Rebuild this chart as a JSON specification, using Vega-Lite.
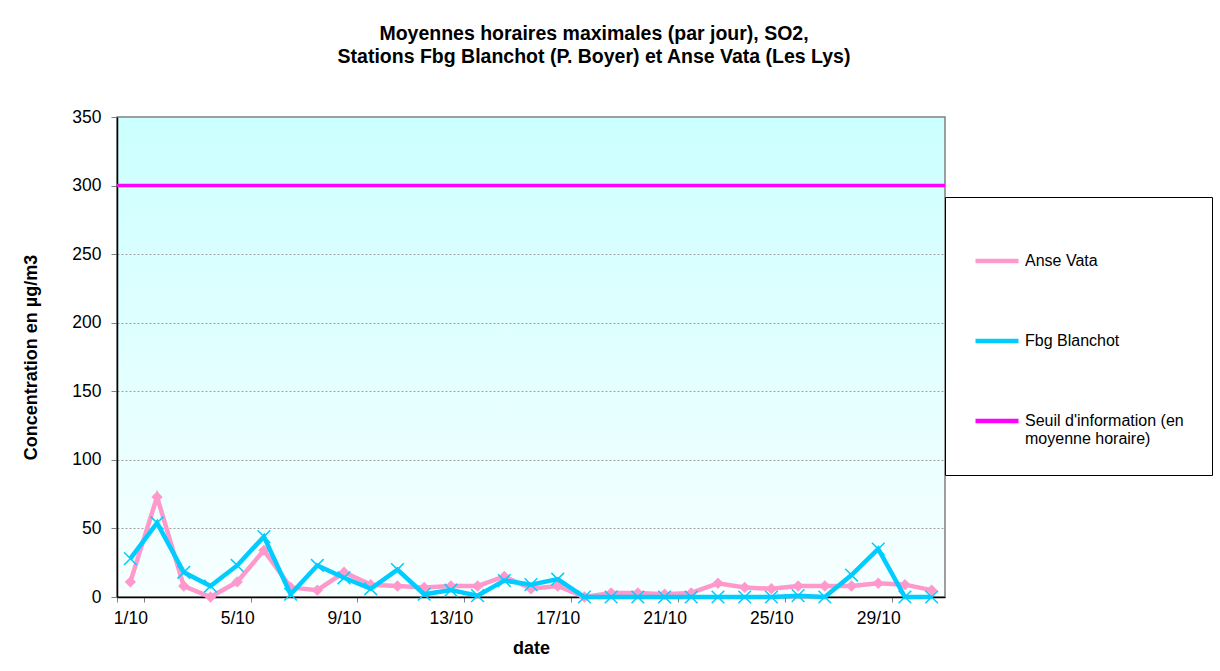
{
  "$schema": "https://vega.github.io/schema/vega-lite/v6.json",
  "width": 828,
  "height": 480,
  "autosize": "none",
  "padding": {"left": 117, "top": 117, "right": 275, "bottom": 74},
  "background": "white",
  "config": {
    "font": "Liberation Sans",
    "axis": {"labelColor": "black", "titleColor": "black"}
  },
  "view": {
    "fill": {"gradient": "linear", "x1": 0, "y1": 0, "x2": 0, "y2": 1, "stops": [{"offset": 0, "color": "#ccffff"}, {"offset": 1, "color": "#f8ffff"}]},
    "stroke": "#808080",
    "strokeWidth": 1.5
  },
  "title": {
    "text": ["Moyennes horaires maximales (par jour), SO2,", "Stations Fbg Blanchot (P. Boyer) et Anse Vata (Les Lys)"],
    "fontSize": 19.5,
    "fontWeight": "bold",
    "lineHeight": 23,
    "anchor": "middle",
    "dx": 63,
    "offset": 41,
    "color": "black"
  },
  "datasets": {
    "so2": [
      {"d": "1/10", "Anse Vata": 11, "Fbg Blanchot": 28},
      {"d": "2/10", "Anse Vata": 73, "Fbg Blanchot": 54},
      {"d": "3/10", "Anse Vata": 8, "Fbg Blanchot": 18},
      {"d": "4/10", "Anse Vata": 0, "Fbg Blanchot": 8},
      {"d": "5/10", "Anse Vata": 11, "Fbg Blanchot": 23},
      {"d": "6/10", "Anse Vata": 34, "Fbg Blanchot": 44},
      {"d": "7/10", "Anse Vata": 7, "Fbg Blanchot": 2},
      {"d": "8/10", "Anse Vata": 5, "Fbg Blanchot": 23},
      {"d": "9/10", "Anse Vata": 18, "Fbg Blanchot": 14},
      {"d": "10/10", "Anse Vata": 9, "Fbg Blanchot": 6},
      {"d": "11/10", "Anse Vata": 8, "Fbg Blanchot": 20},
      {"d": "12/10", "Anse Vata": 7, "Fbg Blanchot": 2},
      {"d": "13/10", "Anse Vata": 8, "Fbg Blanchot": 5},
      {"d": "14/10", "Anse Vata": 8, "Fbg Blanchot": 1},
      {"d": "15/10", "Anse Vata": 15, "Fbg Blanchot": 12},
      {"d": "16/10", "Anse Vata": 6, "Fbg Blanchot": 9},
      {"d": "17/10", "Anse Vata": 8, "Fbg Blanchot": 13},
      {"d": "18/10", "Anse Vata": 0, "Fbg Blanchot": 0},
      {"d": "19/10", "Anse Vata": 3, "Fbg Blanchot": 0},
      {"d": "20/10", "Anse Vata": 3, "Fbg Blanchot": 0},
      {"d": "21/10", "Anse Vata": 2, "Fbg Blanchot": 0},
      {"d": "22/10", "Anse Vata": 3, "Fbg Blanchot": 0},
      {"d": "23/10", "Anse Vata": 10, "Fbg Blanchot": 0},
      {"d": "24/10", "Anse Vata": 7, "Fbg Blanchot": 0},
      {"d": "25/10", "Anse Vata": 6, "Fbg Blanchot": 0},
      {"d": "26/10", "Anse Vata": 8, "Fbg Blanchot": 1},
      {"d": "27/10", "Anse Vata": 8, "Fbg Blanchot": 0},
      {"d": "28/10", "Anse Vata": 8, "Fbg Blanchot": 16},
      {"d": "29/10", "Anse Vata": 10, "Fbg Blanchot": 35},
      {"d": "30/10", "Anse Vata": 9, "Fbg Blanchot": 0},
      {"d": "31/10", "Anse Vata": 5, "Fbg Blanchot": 0}
    ],
    "seuil": [{"series": "Seuil", "value": 300}]
  },
  "encoding": {
    "y": {
      "field": "value",
      "type": "quantitative",
      "scale": {"domain": [0, 350], "nice": false},
      "axis": {
        "values": [0, 50, 100, 150, 200, 250, 300, 350],
        "title": "Concentration en µg/m3",
        "titleFontSize": 18,
        "titleFontWeight": "bold",
        "titlePadding": 31,
        "labelFontSize": 17.5,
        "labelPadding": 10,
        "tickSize": 6,
        "tickColor": "#808080",
        "domainColor": "black",
        "domainWidth": 1.5,
        "grid": true,
        "gridColor": "#a0a0a0",
        "gridDash": [2, 2],
        "gridWidth": 1
      }
    },
    "color": {
      "field": "series",
      "type": "nominal",
      "scale": {"domain": ["Anse Vata", "Fbg Blanchot", "Seuil"], "range": ["#ff99cc", "#00ccff", "#ff00ff"]},
      "legend": {
        "orient": "none",
        "legendX": 828,
        "legendY": 80,
        "direction": "vertical",
        "title": " ",
        "titleFontSize": 14,
        "titlePadding": -2,
        "fillColor": "white",
        "strokeColor": "black",
        "padding": 28,
        "rowPadding": 47,
        "symbolType": "stroke",
        "symbolSize": 1849,
        "symbolStrokeWidth": 4.5,
        "symbolOpacity": 1,
        "labelFontSize": 16,
        "labelColor": "black",
        "labelOffset": 4,
        "labelLimit": 300,
        "labelExpr": "datum.label === 'Seuil' ? [\"Seuil d'information (en\", \"moyenne horaire)\"] : datum.label"
      }
    }
  },
  "layer": [
    {
      "data": {"name": "seuil"},
      "mark": {"type": "rule", "strokeWidth": 3.5},
      "encoding": {}
    },
    {
      "data": {"name": "so2"},
      "transform": [{"fold": ["Anse Vata", "Fbg Blanchot"], "as": ["series", "value"]}],
      "encoding": {
        "x": {
          "field": "d",
          "type": "ordinal",
          "sort": null,
          "bandPosition": 0.5,
          "scale": {"type": "band", "paddingInner": 0, "paddingOuter": 0,
            "domain": ["1/10","2/10","3/10","4/10","5/10","6/10","7/10","8/10","9/10","10/10","11/10","12/10","13/10","14/10","15/10","16/10","17/10","18/10","19/10","20/10","21/10","22/10","23/10","24/10","25/10","26/10","27/10","28/10","29/10","30/10","31/10"]},
          "axis": {
            "values": ["1/10","5/10","9/10","13/10","17/10","21/10","25/10","29/10"],
            "tickBand": "extent",
            "labelAngle": 0,
            "labelFontSize": 17.5,
            "labelPadding": 7,
            "tickSize": 5,
            "tickColor": "#808080",
            "domainColor": "black",
            "domainWidth": 1.5,
            "title": "date",
            "titleFontSize": 18,
            "titleFontWeight": "bold",
            "titlePadding": 13
          }
        }
      },
      "layer": [
        {
          "transform": [{"filter": "datum.series === 'Anse Vata'"}],
          "mark": {"type": "line", "strokeWidth": 4.5}
        },
        {
          "transform": [{"filter": "datum.series === 'Anse Vata'"}],
          "mark": {"type": "point", "shape": "diamond", "filled": true, "size": 130, "opacity": 1},
          "encoding": {"color": {"value": "#ff99cc"}}
        },
        {
          "transform": [{"filter": "datum.series === 'Fbg Blanchot'"}],
          "mark": {"type": "line", "strokeWidth": 4.5}
        },
        {
          "transform": [{"filter": "datum.series === 'Fbg Blanchot'"}],
          "mark": {"type": "point", "shape": "M-1,-1L1,1M-1,1L1,-1", "filled": false, "size": 160, "strokeWidth": 1.5, "opacity": 1},
          "encoding": {"color": {"value": "#00ccff"}}
        }
      ]
    }
  ]
}
